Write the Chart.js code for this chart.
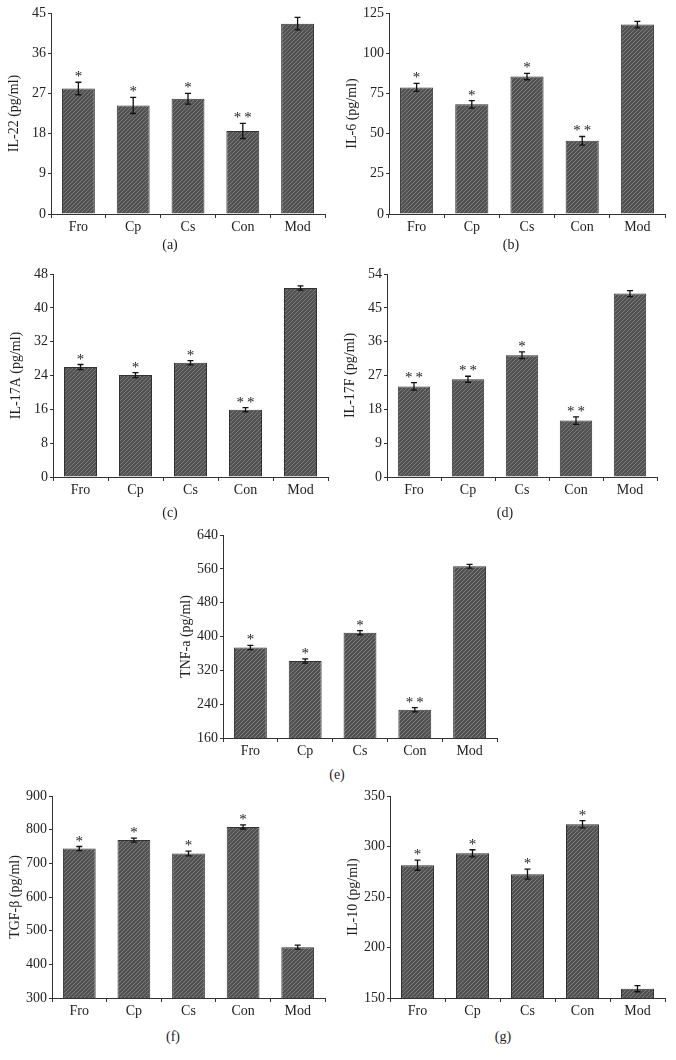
<!DOCTYPE html>
<html>
<head>
<meta charset="utf-8">
<script src="https://cdn.jsdelivr.net/npm/chart.js@4.4.1/dist/chart.umd.min.js"></script>
<style>
  body { margin: 0; background: #fff; width: 676px; height: 1060px; position: relative; overflow: hidden; }
  .panel { position: absolute; }
  .cap { position: absolute; font-family: "Liberation Serif", serif; font-size: 14px; color: #222; transform: translateX(-50%); }
</style>
</head>
<body>
<script>
const categories = ['Fro', 'Cp', 'Cs', 'Con', 'Mod'];

const il22 = [28.1, 24.3, 25.8, 18.6, 42.6];
const il22Err = [1.4, 1.8, 1.2, 1.7, 1.4];
const il22Stars = ['*', '*', '*', '**', ''];

const il6 = [78.7, 68.2, 85.5, 45.5, 117.8];
const il6Err = [2.5, 2.3, 2.0, 2.7, 2.0];
const il6Stars = ['*', '*', '*', '**', ''];

const il17a = [26.0, 24.1, 27.0, 15.9, 44.7];
const il17aErr = [0.6, 0.6, 0.5, 0.5, 0.5];
const il17aStars = ['*', '*', '*', '**', ''];

const il17f = [24.1, 26.0, 32.4, 15.0, 48.8];
const il17fErr = [1.0, 0.8, 0.9, 1.0, 0.8];
const il17fStars = ['**', '**', '*', '**', ''];

const tnfa = [374, 342, 409, 227, 566];
const tnfaErr = [5, 5, 5, 5, 4.5];
const tnfaStars = ['*', '*', '*', '**', ''];

const tgfb = [744, 769, 729, 808, 451];
const tgfbErr = [6, 6, 7, 6, 6];
const tgfbStars = ['*', '*', '*', '*', ''];

const il10 = [281.5, 293.3, 272.6, 322, 159.2];
const il10Err = [5, 3.5, 5, 3.6, 3];
const il10Stars = ['*', '*', '*', '*', ''];

const FONT = '"Liberation Serif", "Times New Roman", serif';
const INK = '#222';

// hatched fill like the original figure
function makeHatch() {
    const pc = document.createElement('canvas');
    pc.width = 4; pc.height = 4;
    const c = pc.getContext('2d');
    c.fillStyle = '#525252';
    c.fillRect(0, 0, 4, 4);
    c.strokeStyle = '#7c7c7c';
    c.lineWidth = 1;
    for (const off of [-4, 0, 4]) {
        c.beginPath();
        c.moveTo(off, 4);
        c.lineTo(off + 4, 0);
        c.stroke();
    }
    return c.createPattern(pc, 'repeat');
}
const hatch = makeHatch();

const errorBars = {
    id: 'errorBars',
    afterDatasetsDraw(chart) {
        const ctx = chart.ctx;
        const xs = chart.scales.x, ys = chart.scales.y;
        const ds = chart.data.datasets[0];
        ctx.save();
        ctx.strokeStyle = '#111';
        ctx.lineWidth = 1.3;
        ds.data.forEach((v, i) => {
            const e = ds.errors[i];
            const x = xs.getPixelForValue(i);
            const yt = ys.getPixelForValue(v + e);
            const yb = ys.getPixelForValue(v - e);
            ctx.beginPath();
            ctx.moveTo(x, yt); ctx.lineTo(x, yb);
            ctx.moveTo(x - 3, yt); ctx.lineTo(x + 3, yt);
            ctx.moveTo(x - 3, yb); ctx.lineTo(x + 3, yb);
            ctx.stroke();
            const s = ds.stars[i];
            if (s) {
                ctx.fillStyle = INK;
                ctx.font = '15px ' + FONT;
                ctx.textAlign = 'center';
                ctx.textBaseline = 'alphabetic';
                ctx.letterSpacing = s.length > 1 ? '3px' : '0px';
                ctx.fillText(s, x + (s.length > 1 ? 1.5 : 0), yt - 1);
            }
        });
        ctx.restore();
    }
};

function panel(p) {
    const W = 46, PT = 12, PR = 10, XH = 25;
    const div = document.createElement('div');
    div.className = 'panel';
    div.style.left = (p.area[0] - W) + 'px';
    div.style.top = (p.area[1] - PT) + 'px';
    const w = p.area[2] - p.area[0] + W + PR;
    const h = p.area[3] - p.area[1] + PT + XH;
    div.style.width = w + 'px';
    div.style.height = h + 'px';
    const cv = document.createElement('canvas');
    div.appendChild(cv);
    document.body.appendChild(div);

    const cap = document.createElement('div');
    cap.className = 'cap';
    cap.textContent = p.caption;
    cap.style.left = p.capPos[0] + 'px';
    cap.style.top = (p.capPos[1] - 8) + 'px';
    document.body.appendChild(cap);

    new Chart(cv, {
        type: 'bar',
        data: {
            labels: categories,
            datasets: [{
                data: p.values,
                errors: p.errors,
                stars: p.stars,
                backgroundColor: hatch,
                borderColor: '#333',
                borderWidth: 1,
                barPercentage: 0.6,
                categoryPercentage: 1.0
            }]
        },
        options: {
            responsive: true,
            maintainAspectRatio: false,
            animation: false,
            layout: { padding: { top: PT, right: PR, left: 0, bottom: 0 } },
            plugins: { legend: { display: false }, tooltip: { enabled: false } },
            scales: {
                x: {
                    afterFit: s => { s.height = XH; },
                    border: { color: '#333', width: 1 },
                    grid: { offset: true, drawOnChartArea: false, drawTicks: true, tickLength: 4, color: '#333' },
                    ticks: { color: INK, font: { family: FONT, size: 14 }, padding: 1 }
                },
                y: {
                    min: p.min, max: p.max,
                    afterFit: s => { s.width = W; },
                    border: { color: '#333', width: 1 },
                    grid: { drawOnChartArea: false, drawTicks: true, tickLength: 3, color: '#333' },
                    ticks: { stepSize: p.step, color: INK, font: { family: FONT, size: 14 }, padding: 2 },
                    title: { display: true, text: p.label, color: INK, font: { family: FONT, size: 14 }, padding: { top: 1, bottom: 0 } }
                }
            }
        },
        plugins: [errorBars]
    });
}

panel({ values: il22, errors: il22Err, stars: il22Stars, label: 'IL-22 (pg/ml)', min: 0, max: 45, step: 9,
        area: [51, 13, 325, 214], caption: '(a)', capPos: [170, 245] });
panel({ values: il6, errors: il6Err, stars: il6Stars, label: 'IL-6 (pg/ml)', min: 0, max: 125, step: 25,
        area: [389, 13, 665, 214], caption: '(b)', capPos: [511, 245] });
panel({ values: il17a, errors: il17aErr, stars: il17aStars, label: 'IL-17A (pg/ml)', min: 0, max: 48, step: 8,
        area: [53, 274, 328, 477], caption: '(c)', capPos: [170, 513] });
panel({ values: il17f, errors: il17fErr, stars: il17fStars, label: 'IL-17F (pg/ml)', min: 0, max: 54, step: 9,
        area: [387, 274, 657, 477], caption: '(d)', capPos: [505, 513] });
panel({ values: tnfa, errors: tnfaErr, stars: tnfaStars, label: 'TNF-a (pg/ml)', min: 160, max: 640, step: 80,
        area: [223, 535, 497, 738], caption: '(e)', capPos: [337, 775] });
panel({ values: tgfb, errors: tgfbErr, stars: tgfbStars, label: 'TGF-β (pg/ml)', min: 300, max: 900, step: 100,
        area: [52, 796, 325, 998], caption: '(f)', capPos: [173, 1037] });
panel({ values: il10, errors: il10Err, stars: il10Stars, label: 'IL-10 (pg/ml)', min: 150, max: 350, step: 50,
        area: [390, 796, 665, 998], caption: '(g)', capPos: [503, 1037] });
</script>
</body>
</html>
